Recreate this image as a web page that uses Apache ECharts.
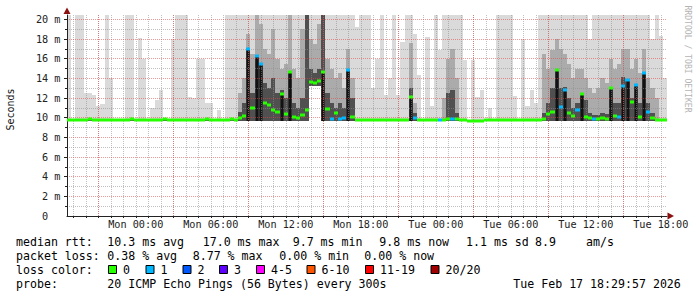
<!DOCTYPE html>
<html><head><meta charset="utf-8">
<script src="https://cdn.jsdelivr.net/npm/echarts@6/dist/echarts.min.js"></script>
<style>html,body{margin:0;padding:0;background:#fff}#c{width:697px;height:297px}</style>
</head><body><div id="c"></div>
<script>
// time axis: hours relative to Mon 00:00; window Sun 18:30 .. Tue 18:30, 20-minute bins
const startHour = -5.5;
const endHour = 42.5;
const stepHours = 1 / 3;
const yMax = 20.45;

// median RTT (ms) per bin
const median = [
  9.8,9.8,9.8,9.8,9.8,9.9,9.8,9.8,9.8,9.8,9.8,9.8,
  9.8,9.8,9.8,9.9,9.8,9.8,9.8,9.8,9.8,9.8,9.8,9.9,
  9.8,9.8,9.8,9.8,9.8,9.8,9.8,9.8,9.8,9.9,9.8,9.8,
  9.8,9.8,9.8,9.9,9.8,10.0,10.2,17.0,11.0,16.3,15.5,11.5,
  11.3,10.8,10.6,12.4,10.4,14.6,10.1,10.0,10.3,10.8,13.6,13.5,
  13.7,14.6,10.9,9.9,10.5,9.9,10.0,14.9,10.1,9.8,9.8,9.8,
  9.8,9.8,9.8,9.8,9.8,9.8,9.8,9.8,9.8,9.8,12.1,10.0,
  9.8,9.8,9.8,9.8,9.8,9.8,9.8,9.9,9.9,9.9,9.8,9.8,
  9.7,9.7,9.7,9.7,9.8,9.8,9.8,9.8,9.8,9.8,9.8,9.8,
  9.8,9.8,9.8,9.8,9.8,9.8,9.9,10.4,10.6,14.9,11.1,12.8,
  10.5,10.2,10.8,12.4,10.1,10.0,9.9,9.9,10.0,9.9,13.0,10.2,
  10.1,13.2,13.8,11.6,13.3,10.1,14.5,10.6,10.0,9.8,9.8,9.8
];
// lost pings (of 20) per bin
const lossCount = [
  0,0,0,0,0,0,0,0,0,0,0,0,
  0,0,0,0,0,0,0,0,0,0,0,0,
  0,0,0,0,0,0,0,0,0,0,0,0,
  0,0,0,0,0,0,0,1,0,1,1,0,
  0,0,0,0,0,0,0,0,0,0,0,0,
  0,0,0,1,0,1,1,1,0,0,0,0,
  0,0,0,0,0,0,0,0,0,0,0,1,
  0,0,0,0,0,1,0,0,1,0,0,0,
  0,0,0,0,0,0,0,0,0,0,0,0,
  0,0,0,0,0,0,0,0,0,0,1,1,
  0,0,1,0,0,0,1,0,0,0,0,0,
  1,1,1,0,1,0,1,1,0,0,0,0
];
// smoke: lowest ping per bin
const smokeMin = [
  9.7,9.7,9.7,9.7,9.7,9.7,9.7,9.7,9.7,9.7,9.7,9.7,
  9.7,9.7,9.7,9.7,9.7,9.7,9.7,9.7,9.7,9.7,9.7,9.7,
  9.7,9.7,9.7,9.7,9.7,9.7,9.7,9.7,9.7,9.7,9.7,9.7,
  9.7,9.7,9.7,9.7,9.7,9.7,9.7,9.7,9.7,9.7,9.7,9.7,
  9.7,9.7,9.7,9.7,9.7,9.7,9.7,9.7,9.7,9.7,13.2,13.2,
  13.2,9.7,9.7,9.7,9.7,9.7,9.7,9.7,9.7,9.7,9.7,9.7,
  9.7,9.7,9.7,9.7,9.7,9.7,9.7,9.7,9.7,9.7,9.7,9.7,
  9.7,9.7,9.7,9.7,9.7,9.7,9.7,9.7,9.7,9.7,9.7,9.7,
  9.7,9.7,9.7,9.7,9.7,9.7,9.7,9.7,9.7,9.7,9.7,9.7,
  9.7,9.7,9.7,9.7,9.7,9.7,9.7,9.7,9.7,9.7,9.7,9.7,
  9.7,9.7,9.7,9.7,9.7,9.7,9.7,9.7,9.7,9.7,9.7,9.7,
  9.7,9.7,9.7,9.7,9.7,9.7,9.7,9.7,9.7,9.7,9.7,9.7
];
// smoke: top of the dense (dark) pings
const smokeDark = [
  9.8,9.8,9.8,9.8,9.8,9.8,9.8,9.8,9.8,9.8,9.8,9.8,
  9.8,9.8,9.8,9.8,9.8,9.8,9.8,9.8,9.8,9.8,9.8,9.8,
  9.8,9.8,9.8,9.8,9.8,9.8,9.8,9.8,9.8,9.8,9.8,9.8,
  9.8,9.8,9.8,9.8,9.8,10.6,11.5,17.0,12.5,16.3,15.6,13.5,
  13.0,14.0,12.5,12.8,12.0,14.6,11.5,11.0,12.0,20.5,15.0,14.5,
  15.0,20.5,12.5,11.5,11.0,11.5,11.0,14.9,12.0,9.8,9.8,9.8,
  9.8,9.8,9.8,9.8,9.8,9.8,9.8,9.8,9.8,9.8,13.0,10.5,
  9.8,9.8,9.8,9.8,9.8,9.8,9.8,12.5,12.8,10.5,9.8,9.8,
  9.8,9.8,9.8,9.8,9.8,9.8,9.8,9.8,9.8,9.8,9.8,9.8,
  9.8,9.8,9.8,9.8,9.8,9.8,10.5,11.5,13.0,14.9,13.0,13.1,
  12.0,11.0,11.5,12.4,11.8,10.5,10.3,10.3,10.5,10.4,13.0,11.5,
  11.5,14.1,13.8,12.0,13.3,11.5,14.5,11.5,10.5,9.8,9.8,9.8
];
// smoke: top of the middle pings
const smokeMid = [
  9.8,9.8,9.8,9.8,9.8,9.8,9.8,9.8,9.8,9.8,9.8,9.8,
  9.8,9.8,9.8,9.8,9.8,9.8,9.8,9.8,9.8,9.8,9.8,9.8,
  9.8,9.8,9.8,9.8,9.8,9.8,9.8,9.8,9.8,9.8,9.8,9.8,
  9.8,9.8,9.8,9.8,9.8,12.5,14.0,18.5,16.5,20.5,19.5,17.0,
  16.5,19.0,16.0,15.0,15.5,20.5,15.0,14.0,19.0,20.5,18.0,17.5,
  19.5,20.5,16.0,15.0,14.0,14.5,13.0,17.0,14.0,9.8,9.8,9.8,
  9.8,9.8,9.8,9.8,9.8,9.8,9.8,9.8,9.8,9.8,17.6,11.5,
  9.8,9.8,9.8,9.8,9.8,9.8,12.0,16.0,17.0,14.0,9.8,9.8,
  9.8,9.8,9.8,9.8,9.8,9.8,9.8,9.8,9.8,9.8,9.8,9.8,
  9.8,9.8,9.8,9.8,9.8,9.8,16.5,15.0,16.9,18.0,17.0,16.5,
  15.5,14.0,15.0,15.0,14.0,13.0,12.5,13.0,14.0,13.5,16.0,15.0,
  15.5,17.0,17.0,15.0,16.0,14.5,17.0,14.0,13.0,12.0,9.8,9.8
];
// smoke: highest ping per bin (clipped at the top of the graph)
const smokeMax = [
  20.5,9.8,20.5,20.5,12.5,12.5,12.3,11.2,11.4,20.5,14.0,9.8,
  9.8,9.8,20.5,20.5,9.8,18.1,16.0,9.8,11.0,11.8,12.8,9.8,
  9.8,18.0,20.5,20.5,20.5,12.1,12.0,16.0,16.0,11.5,11.5,9.8,
  10.8,9.8,20.5,20.5,20.5,20.5,20.5,20.5,20.5,20.5,20.5,20.5,
  20.5,20.5,20.5,20.5,20.5,20.5,20.5,20.5,20.5,20.5,20.5,20.5,
  20.5,20.5,20.5,20.5,20.5,20.5,20.5,20.5,20.5,19.2,20.5,20.5,
  20.5,13.0,16.0,20.5,12.3,14.0,20.5,12.3,17.7,20.5,20.5,18.5,
  14.3,9.8,18.2,11.2,20.5,16.9,20.5,20.5,20.5,20.5,20.5,15.9,
  9.8,15.9,12.1,12.8,9.8,11.0,9.8,20.5,20.5,20.5,20.5,12.2,
  9.8,18.0,11.2,12.8,11.5,20.5,20.5,20.5,20.5,20.5,20.5,20.5,
  20.5,20.5,20.5,20.5,20.5,18.0,20.5,20.5,20.5,20.5,20.5,20.5,
  20.5,20.5,20.5,20.5,20.5,20.5,20.5,20.5,18.0,20.5,18.3,14.0
];

const xLabelHours = [0, 6, 12, 18, 24, 30, 36, 42];
const xLabels = ['Mon 00:00','Mon 06:00','Mon 12:00','Mon 18:00','Tue 00:00','Tue 06:00','Tue 12:00','Tue 18:00'];
const xMajorGrid = [-3, 3, 9, 15, 21, 27, 33, 39];
const xMinorGrid = [-5,-4,-3,-2,-1,0,1,2,3,4,5,6,7,8,9,10,11,12,13,14,15,16,17,18,19,20,21,22,23,24,25,26,27,28,29,30,31,32,33,34,35,36,37,38,39,40,41,42];
const yLabelValues = [0, 2, 4, 6, 8, 10, 12, 14, 16, 18, 20];
const yMajorGrid = [2, 4, 6, 8, 10, 12, 14, 16, 18, 20];
const yMinorGrid = [1, 3, 5, 7, 9, 11, 13, 15, 17, 19];

const lossLabels = ['0','1','2','3','4-5','6-10','11-19','20/20'];
const lossColors = ['#26ff00','#00b8ff','#0059ff','#5e00ff','#ff00ff','#ff5500','#ff0000','#a10000'];

const statRows = [
  ['median rtt:', '10.3 ms avg', '17.0 ms max', '9.7 ms min', '9.8 ms now', '1.1 ms sd', '8.9', 'am/s'],
  ['packet loss:', '0.38 % avg', '8.77 % max', '0.00 % min', '0.00 % now'],
  ['loss color:'],
  ['probe:', '20 ICMP Echo Pings (56 Bytes) every 300s', 'Tue Feb 17 18:29:57 2026']
];
// layout of the text block
const statX = [
  [16, 107.3, 202.7, 292.7, 379.3, 466, 535, 586],
  [16, 107.3, 192.7, 279.3, 364.3],
  [16],
  [16, 107.3, 513.3]
];
const statY = [241.5, 255.7, 269.6, 283.8];
const lossBoxX = [108, 145.5, 182.5, 219, 256, 306.5, 365, 430.5];

function lossIndex(n) {
  if (n <= 3) return n;
  if (n <= 5) return 4;
  if (n <= 10) return 5;
  if (n <= 19) return 6;
  return 7;
}

const smokeData = median.map((m, i) => [startHour + i * stepHours, startHour + (i + 1) * stepHours,
  smokeMin[i], smokeDark[i], smokeMid[i], smokeMax[i], m]);
const medianData = median.map((m, i) => [startHour + i * stepHours, startHour + (i + 1) * stepHours, m, lossCount[i]]);

function renderSmoke(params, api) {
  const t0 = api.value(0), t1 = api.value(1);
  const lo = api.value(2), dk = api.value(3), md = api.value(4), mx = api.value(5), m = api.value(6);
  const x0 = Math.round(api.coord([t0, 0])[0]);
  const x1 = Math.round(api.coord([t1, 0])[0]);
  const yLo = Math.round(api.coord([t0, lo])[1]);
  const band = (top, color, bx, bw) => {
    const yt = Math.round(api.coord([t0, Math.min(top, yMax)])[1]);
    return { type: 'rect', shape: { x: bx, y: yt, width: bw, height: Math.max(0, yLo - yt) }, style: { fill: color } };
  };
  const children = [
    band(mx, '#dadada', x0, x1 - x0),
    band(md, '#ababab', x0, x1 - x0),
    band(dk, '#505050', x0, x1 - x0)
  ];
  if (m - lo >= 2) {
    const xc = Math.round((x0 + x1) / 2) - 1;
    children.push(band(m, '#121212', xc - 0.5, 3));
  }
  return { type: 'group', children };
}

function renderMedian(params, api) {
  const t0 = api.value(0), t1 = api.value(1), m = api.value(2), n = api.value(3);
  const x0 = Math.round(api.coord([t0, 0])[0]);
  const x1 = Math.round(api.coord([t1, 0])[0]);
  const y = Math.round(api.coord([t0, m])[1]);
  return { type: 'rect', shape: { x: x0, y: y - 1.5, width: x1 - x0, height: 3 }, style: { fill: lossColors[lossIndex(n)] } };
}

const mono = '"DejaVu Sans Mono", monospace';
const axisColor = '#222';
const redGrid = 'rgba(228,70,70,0.55)';
const grayGrid = 'rgba(140,140,140,0.55)';

const graphics = [];
statRows.forEach((row, r) => {
  row.forEach((txt, k) => {
    graphics.push({ type: 'text', x: statX[r][k], y: statY[r], silent: true,
      style: { text: txt, fill: '#000', font: '11.6px ' + mono, textAlign: 'left', textVerticalAlign: 'middle', align: 'left', verticalAlign: 'middle' } });
  });
});
lossLabels.forEach((lab, k) => {
  graphics.push({ type: 'rect', shape: { x: lossBoxX[k] + 0.5, y: 265.5, width: 8, height: 8 },
    style: { fill: lossColors[k], stroke: '#000', lineWidth: 1 }, silent: true });
  graphics.push({ type: 'text', x: lossBoxX[k] + 15, y: statY[2], silent: true,
    style: { text: lab, fill: '#000', font: '11.6px ' + mono, textAlign: 'left', textVerticalAlign: 'middle', align: 'left', verticalAlign: 'middle' } });
});
graphics.push({ type: 'text', x: 10.5, y: 109.5, rotation: Math.PI / 2, silent: true,
  style: { text: 'Seconds', fill: '#111', font: '10px ' + mono, textAlign: 'center', textVerticalAlign: 'middle', align: 'center', verticalAlign: 'middle' } });
graphics.push({ type: 'text', x: 688, y: 59, rotation: -Math.PI / 2, silent: true,
  style: { text: 'RRDTOOL / TOBI OETIKER', fill: '#b4b4b4', font: '8.1px ' + mono, textAlign: 'center', textVerticalAlign: 'middle', align: 'center', verticalAlign: 'middle' } });
// axis arrows
graphics.push({ type: 'polygon', shape: { points: [[63.5, 14], [67, 7.5], [70.5, 14]] }, style: { fill: '#8b1010' }, silent: true });
graphics.push({ type: 'polygon', shape: { points: [[667.5, 212.5], [674, 216], [667.5, 219.5]] }, style: { fill: '#8b1010' }, silent: true });

const chart = echarts.init(document.getElementById('c'), null, { renderer: 'svg', width: 697, height: 297 });
chart.setOption({
  animation: false,
  backgroundColor: '#ffffff',
  grid: { left: 67, right: 30, top: 15, bottom: 81, containLabel: false },
  xAxis: [
    { type: 'value', min: startHour, max: endHour, position: 'bottom', z: 4,
      axisLine: { show: true, onZero: false, lineStyle: { color: axisColor, width: 1 } },
      axisTick: { show: false, customValues: xMajorGrid },
      axisLabel: { show: true, customValues: xLabelHours, margin: 3,
        formatter: v => xLabels[xLabelHours.indexOf(v)] || '',
        fontFamily: mono, fontSize: 10.2, color: axisColor },
      splitLine: { show: true, lineStyle: { color: redGrid, width: 1, type: [1, 1] } } },
    { type: 'value', min: startHour, max: endHour, position: 'bottom', z: 3,
      axisLine: { show: false, onZero: false },
      axisTick: { show: true, customValues: xMinorGrid, length: 2, lineStyle: { color: axisColor } },
      axisLabel: { show: false },
      splitLine: { show: true, lineStyle: { color: grayGrid, width: 1, type: [1, 1] } } }
  ],
  yAxis: [
    { type: 'value', min: 0, max: yMax, position: 'left', z: 4,
      axisLine: { show: true, onZero: false, lineStyle: { color: axisColor, width: 1 } },
      axisTick: { show: true, customValues: yMajorGrid, length: 3, lineStyle: { color: axisColor } },
      axisLabel: { show: true, customValues: yLabelValues, margin: 6.5,
        formatter: v => v === 0 ? '{z|0}' : v + ' m',
        rich: { z: { padding: [0, 12.3, 0, 0], fontFamily: mono, fontSize: 10.2, color: axisColor } },
        fontFamily: mono, fontSize: 10.2, color: axisColor },
      splitLine: { show: true, lineStyle: { color: redGrid, width: 1, type: [1, 1] } } },
    { type: 'value', min: 0, max: yMax, position: 'left', z: 3,
      axisLine: { show: false, onZero: false },
      axisTick: { show: true, customValues: yMinorGrid, length: 2, lineStyle: { color: axisColor } },
      axisLabel: { show: false },
      splitLine: { show: true, lineStyle: { color: grayGrid, width: 1, type: [1, 1] } } }
  ],
  series: [
    { type: 'custom', name: 'smoke', xAxisIndex: 0, yAxisIndex: 0, z: 2, clip: true, silent: true,
      renderItem: renderSmoke, encode: { x: [0, 1], y: [2, 5] }, data: smokeData },
    { type: 'custom', name: 'median rtt', xAxisIndex: 0, yAxisIndex: 0, z: 6, clip: true, silent: true,
      renderItem: renderMedian, encode: { x: [0, 1], y: 2 }, data: medianData }
  ],
  graphic: graphics
});
</script>
</body></html>
